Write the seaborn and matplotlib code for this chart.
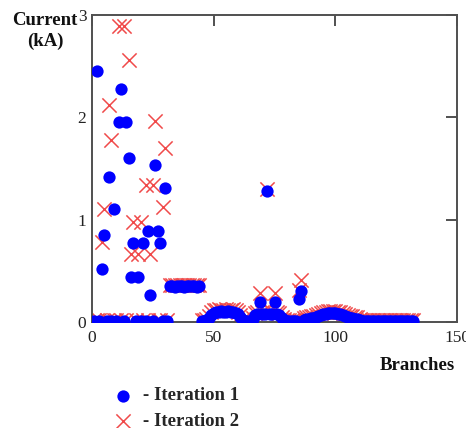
import matplotlib
matplotlib.use("Agg")
import matplotlib.pyplot as plt
import pandas as pd
import seaborn as sns

# Current (kA) per branch, branches 1..132
iteration_1 = [
    0.01, 2.45, 0.01, 0.52, 0.85, 0.01, 1.42, 0.01, 1.10, 0.01,   # 1-10
    1.95, 2.28, 0.01, 1.95, 1.60, 0.44, 0.77, 0.01, 0.44, 0.01,   # 11-20
    0.77, 0.01, 0.89, 0.26, 0.01, 1.53, 0.89, 0.77, 0.01, 1.31,   # 21-30
    0.01, 0.35, 0.35, 0.34, 0.35, 0.35, 0.35, 0.34, 0.35, 0.35,   # 31-40
    0.35, 0.35, 0.34, 0.35, 0.01, 0.01, 0.02, 0.04, 0.07, 0.09,   # 41-50
    0.10, 0.10, 0.11, 0.10, 0.10, 0.11, 0.10, 0.10, 0.09, 0.08,   # 51-60
    0.05, 0.02, 0.01, 0.01, 0.01, 0.03, 0.07, 0.08, 0.20, 0.08,   # 61-70
    0.08, 1.28, 0.08, 0.08, 0.20, 0.08, 0.07, 0.04, 0.02, 0.01,   # 71-80
    0.01, 0.01, 0.01, 0.01, 0.22, 0.30, 0.02, 0.03, 0.03, 0.04,   # 81-90
    0.04, 0.05, 0.06, 0.07, 0.08, 0.08, 0.09, 0.09, 0.09, 0.09,   # 91-100
    0.08, 0.08, 0.07, 0.06, 0.05, 0.04, 0.04, 0.03, 0.03, 0.02,   # 101-110
    0.01, 0.01, 0.01, 0.01, 0.01, 0.01, 0.01, 0.01, 0.01, 0.01,   # 111-120
    0.01, 0.01, 0.01, 0.01, 0.01, 0.01, 0.01, 0.01, 0.01, 0.01,   # 121-130
    0.01, 0.01,                                                   # 131-132
]
iteration_2 = [
    0.02, 0.02, 0.02, 0.78, 1.10, 0.02, 2.12, 1.78, 0.02, 0.02,   # 1-10
    2.89, 0.02, 2.89, 0.02, 2.56, 0.66, 0.98, 0.02, 0.66, 0.98,   # 11-20
    0.02, 1.34, 0.02, 0.66, 1.34, 1.96, 0.02, 0.02, 1.12, 1.70,   # 21-30
    0.02, 0.36, 0.36, 0.36, 0.36, 0.36, 0.36, 0.36, 0.36, 0.36,   # 31-40
    0.36, 0.36, 0.36, 0.36, 0.02, 0.02, 0.03, 0.06, 0.10, 0.12,   # 41-50
    0.12, 0.13, 0.12, 0.12, 0.13, 0.12, 0.12, 0.13, 0.12, 0.10,   # 51-60
    0.07, 0.03, 0.02, 0.02, 0.02, 0.04, 0.09, 0.10, 0.28, 0.10,   # 61-70
    0.11, 1.30, 0.11, 0.10, 0.28, 0.10, 0.09, 0.05, 0.03, 0.02,   # 71-80
    0.02, 0.02, 0.02, 0.02, 0.31, 0.41, 0.04, 0.05, 0.05, 0.06,   # 81-90
    0.06, 0.07, 0.08, 0.09, 0.10, 0.10, 0.11, 0.11, 0.11, 0.11,   # 91-100
    0.10, 0.10, 0.09, 0.08, 0.07, 0.06, 0.06, 0.05, 0.05, 0.03,   # 101-110
    0.02, 0.02, 0.02, 0.02, 0.02, 0.02, 0.02, 0.02, 0.02, 0.02,   # 111-120
    0.02, 0.02, 0.02, 0.02, 0.02, 0.02, 0.02, 0.02, 0.02, 0.02,   # 121-130
    0.02, 0.02,                                                   # 131-132
]
branches = list(range(1, len(iteration_1) + 1))
x_ticks = [0, 50, 100, 150]
y_ticks = [0, 1, 2, 3]
series_labels = ["- Iteration 1", "- Iteration 2"]

sns.set_theme(style="white")
plt.rcParams["font.family"] = ["Liberation Serif", "DejaVu Serif"]

W, H = 466, 428
fig = plt.figure(figsize=(W / 100, H / 100), dpi=100)
ax = fig.add_axes([92 / W, 1 - 322 / H, (457 - 92) / W, (322 - 15) / H])

df1 = pd.DataFrame({"Branch": branches, "Current": iteration_1})
df2 = pd.DataFrame({"Branch": branches, "Current": iteration_2})

sns.scatterplot(data=df2, x="Branch", y="Current", marker="x", s=105,
                color="#f04a4a", linewidth=1.1, ax=ax, label=series_labels[1],
                zorder=2)
sns.scatterplot(data=df1, x="Branch", y="Current", marker="o", s=78,
                color="#0000ff", edgecolor="#0000ff", linewidth=0, ax=ax,
                label=series_labels[0], zorder=3)

ax.set_xlim(x_ticks[0], x_ticks[-1])
ax.set_ylim(y_ticks[0], y_ticks[-1])
ax.set_xticks(x_ticks)
ax.set_yticks(y_ticks)
ax.set_xlabel("")
ax.set_ylabel("")
for sp in ax.spines.values():
    sp.set_color("#505050")
    sp.set_linewidth(1.4)
ax.tick_params(direction="in", length=8, width=1.4, color="#505050",
               top=True, right=True, labelsize=12.5, labelcolor="#222222",
               pad=4)
ax.tick_params(axis="x", pad=6)

bold = dict(fontweight="bold", fontsize=13.5, color="#111111")
fig.text(45 / W, 1 - 25 / H, "Current", ha="center", va="baseline", **bold)
fig.text(45 / W, 1 - 46 / H, "(kA)", ha="center", va="baseline", **bold)
fig.text(455 / W, 1 - 365 / H, "Branches", ha="right", va="center", **bold)

handles, labels = ax.get_legend_handles_labels()
order = [labels.index(series_labels[0]), labels.index(series_labels[1])]
ax.legend([handles[i] for i in order], [labels[i] for i in order],
          loc="upper left", bbox_to_anchor=(100 / W, 1 - 378 / H),
          bbox_transform=fig.transFigure, frameon=False,
          prop={"weight": "bold", "size": 13.5}, handletextpad=0.3,
          labelspacing=0.45, borderpad=0, handlelength=1.5)

fig.savefig("out.png", dpi=100)
